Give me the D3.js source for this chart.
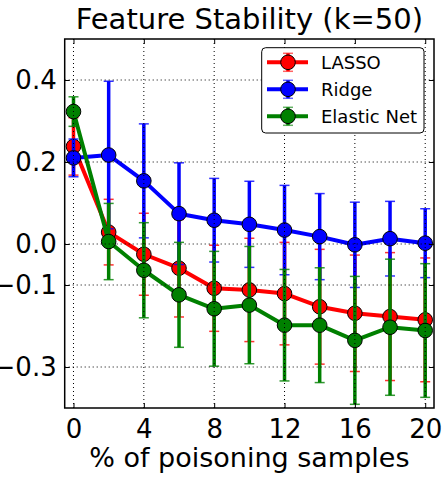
<!DOCTYPE html>
<html><head><meta charset="utf-8">
<script src="https://cdn.jsdelivr.net/npm/d3@7"></script>
<style>body{margin:0;background:#fff}svg{display:block}text{font-family:"DejaVu Sans",sans-serif;fill:#000}</style>
</head><body><svg id="c" width="444" height="477"></svg>
<script>
const xValues = [0, 2, 4, 6, 8, 10, 12, 14, 16, 18, 20];
const lasso = [0.238, 0.029, -0.025, -0.059, -0.108, -0.112, -0.121, -0.153, -0.169, -0.177, -0.185];
const lassoErr = [0.07, 0.08, 0.10, 0.119, 0.105, 0.126, 0.125, 0.14, 0.142, 0.156, 0.151];
const ridge = [0.210, 0.217, 0.154, 0.074, 0.058, 0.048, 0.034, 0.018, -0.002, 0.013, 0.002];
const ridgeErr = [0.046, 0.18, 0.139, 0.124, 0.102, 0.105, 0.109, 0.105, 0.104, 0.091, 0.084];
const elastic = [0.323, 0.006, -0.064, -0.124, -0.158, -0.149, -0.198, -0.198, -0.235, -0.203, -0.211];
const elasticErr = [0.036, 0.093, 0.116, 0.128, 0.14, 0.143, 0.136, 0.14, 0.156, 0.166, 0.163];
const seriesNames = ["LASSO", "Ridge", "Elastic Net"];
const seriesColors = ["#ff0000", "#0000ff", "#008000"];
const xTicks = [0, 4, 8, 12, 16, 20];
const yTicks = [0.4, 0.2, 0.0, -0.1, -0.3];
const yTickLabels = ["0.4", "0.2", "0.0", "\u22120.1", "\u22120.3"];
const title = "Feature Stability (k=50)";
const xLabel = "% of poisoning samples";

const L = 64.7, R = 434, T = 39, B = 408;
const svg = d3.select("#c");
const x = d3.scaleLinear().domain([-0.5, 20.5]).range([L, R]);
const y = d3.scaleLinear().domain([-0.4, 0.5]).range([B, T]);

const series = [
  {name: seriesNames[0], color: seriesColors[0], v: lasso, e: lassoErr},
  {name: seriesNames[1], color: seriesColors[1], v: ridge, e: ridgeErr},
  {name: seriesNames[2], color: seriesColors[2], v: elastic, e: elasticErr}
];

const plot = svg.append("g");
const capW = 5;
series.forEach(s => {
  const g = plot.append("g");
  const pts = xValues.map((xv, i) => ({x: xv, v: s.v[i], e: s.e[i]}));
  g.selectAll("line.bar").data(pts).join("line")
    .attr("x1", d => x(d.x)).attr("x2", d => x(d.x))
    .attr("y1", d => y(d.v + d.e)).attr("y2", d => y(d.v - d.e))
    .attr("stroke", s.color).attr("stroke-width", 3.5);
  ["top", "bot"].forEach(k => {
    g.selectAll("line.cap" + k).data(pts).join("line")
      .attr("x1", d => x(d.x) - capW).attr("x2", d => x(d.x) + capW)
      .attr("y1", d => y(k === "top" ? d.v + d.e : d.v - d.e))
      .attr("y2", d => y(k === "top" ? d.v + d.e : d.v - d.e))
      .attr("stroke", s.color).attr("stroke-width", 1.5).attr("opacity", 0.8);
  });
  g.append("path").datum(pts)
    .attr("d", d3.line().x(d => x(d.x)).y(d => y(d.v)))
    .attr("fill", "none").attr("stroke", s.color).attr("stroke-width", 4)
    .attr("stroke-linejoin", "round");
  g.selectAll("circle").data(pts).join("circle")
    .attr("cx", d => x(d.x)).attr("cy", d => y(d.v)).attr("r", 7.3)
    .attr("fill", s.color).attr("stroke", "#000").attr("stroke-width", 1);
});

// grid (on top)
const grid = svg.append("g").attr("stroke", "#000").attr("stroke-width", 1).attr("stroke-dasharray", "1,3");
grid.selectAll("line.gx").data(xTicks).join("line")
  .attr("x1", d => x(d)).attr("x2", d => x(d)).attr("y1", T).attr("y2", B);
grid.selectAll("line.gy").data(yTicks).join("line")
  .attr("y1", d => y(d)).attr("y2", d => y(d)).attr("x1", L).attr("x2", R);

// axes with inward ticks
const tl = 5;
const xb = d3.axisBottom(x).tickValues(xTicks).tickSize(-tl).tickPadding(12).tickFormat(d3.format("d"));
const xt = d3.axisTop(x).tickValues(xTicks).tickSize(-tl).tickFormat("");
const yl = d3.axisLeft(y).tickValues(yTicks).tickSize(-tl).tickPadding(8).tickFormat((d, i) => yTickLabels[i]);
const yr = d3.axisRight(y).tickValues(yTicks).tickSize(-tl).tickFormat("");
function styleAx(g) {
  g.select(".domain").remove();
  g.selectAll(".tick line").attr("stroke", "#000").attr("stroke-width", 1);
  g.selectAll("text").style("font-size", "26px").style("font-family", "DejaVu Sans").attr("fill", "#000");
}
svg.append("g").attr("transform", `translate(0,${B})`).call(xb).call(styleAx);
svg.append("g").attr("transform", `translate(0,${T})`).call(xt).call(styleAx);
svg.append("g").attr("transform", `translate(${L},0)`).call(yl).call(styleAx);
svg.append("g").attr("transform", `translate(${R},0)`).call(yr).call(styleAx);

svg.append("rect").attr("x", L).attr("y", T).attr("width", R - L).attr("height", B - T)
  .attr("fill", "none").attr("stroke", "#000").attr("stroke-width", 1.5);

// title & label
svg.append("text").attr("x", (L + R) / 2).attr("y", 29).attr("text-anchor", "middle")
  .style("font-size", "29px").text(title);
svg.append("text").attr("x", (L + R) / 2).attr("y", 467).attr("text-anchor", "middle")
  .style("font-size", "27px").text(xLabel);

// legend
const lg = svg.append("g");
lg.append("rect").attr("x", 261.7).attr("y", 47.7).attr("width", 162.3).attr("height", 85.3)
  .attr("rx", 4).attr("fill", "#fff").attr("stroke", "#000").attr("stroke-width", 1);
series.forEach((s, i) => {
  const cy = 62.3 + i * 27, cx = 288;
  lg.append("line").attr("x1", cx).attr("x2", cx).attr("y1", cy - 9).attr("y2", cy + 9)
    .attr("stroke", s.color).attr("stroke-width", 3.5);
  [cy - 9, cy + 9].forEach(yy => lg.append("line").attr("x1", cx - 5).attr("x2", cx + 5)
    .attr("y1", yy).attr("y2", yy).attr("stroke", s.color).attr("stroke-width", 1.5).attr("opacity", 0.6));
  lg.append("line").attr("x1", 267).attr("x2", 308).attr("y1", cy).attr("y2", cy)
    .attr("stroke", s.color).attr("stroke-width", 4);
  lg.append("circle").attr("cx", cx).attr("cy", cy).attr("r", 7.3)
    .attr("fill", s.color).attr("stroke", "#000").attr("stroke-width", 1);
  lg.append("text").attr("x", 321).attr("y", cy).attr("dy", "0.36em")
    .style("font-size", "18px").text(s.name);
});
</script></body></html>
